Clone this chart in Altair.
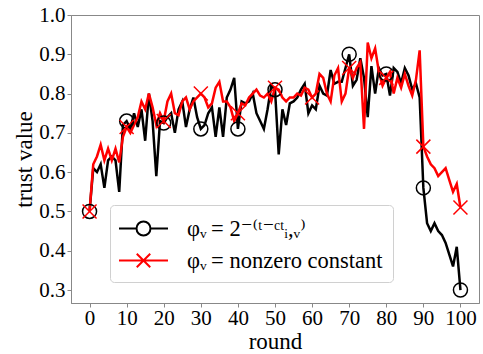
import altair as alt
import pandas as pd

rounds = list(range(101))

black = [0.50, 0.61, 0.60, 0.62, 0.56, 0.63, 0.64, 0.63, 0.55, 0.72,
         0.73, 0.71, 0.75, 0.715, 0.76, 0.68, 0.80, 0.73, 0.59, 0.73,
         0.725, 0.74, 0.75, 0.70, 0.76, 0.78, 0.715, 0.76, 0.79, 0.74,
         0.71, 0.72, 0.75, 0.765, 0.69, 0.765, 0.69, 0.79, 0.81, 0.84,
         0.71, 0.78, 0.775, 0.78, 0.80, 0.75, 0.73, 0.71, 0.76, 0.82,
         0.81, 0.645, 0.76, 0.72, 0.775, 0.78, 0.79, 0.81, 0.825, 0.75,
         0.77, 0.76, 0.82, 0.80, 0.795, 0.86, 0.825, 0.83, 0.83, 0.865,
         0.90, 0.82, 0.835, 0.89, 0.84, 0.74, 0.87, 0.80, 0.865, 0.846,
         0.85, 0.795, 0.865, 0.855, 0.826, 0.865, 0.846, 0.81, 0.826, 0.79,
         0.56, 0.47, 0.45, 0.47, 0.45, 0.44, 0.42, 0.39, 0.36, 0.41,
         0.30]

red = [0.50, 0.62, 0.64, 0.67, 0.63, 0.66, 0.63, 0.66, 0.625, 0.69,
       0.715, 0.70, 0.72, 0.74, 0.78, 0.76, 0.80, 0.765, 0.72, 0.75,
       0.73, 0.78, 0.80, 0.75, 0.745, 0.78, 0.79, 0.76, 0.78, 0.79,
       0.80, 0.79, 0.765, 0.775, 0.815, 0.83, 0.78, 0.78, 0.765, 0.73,
       0.75, 0.775, 0.77, 0.79, 0.80, 0.81, 0.795, 0.79, 0.80, 0.78,
       0.815, 0.81, 0.79, 0.78, 0.79, 0.79, 0.80, 0.795, 0.815, 0.81,
       0.79, 0.80, 0.85, 0.84, 0.80, 0.78, 0.846, 0.865, 0.78, 0.80,
       0.865, 0.84, 0.865, 0.88, 0.71, 0.93, 0.89, 0.915, 0.855, 0.82,
       0.84, 0.855, 0.80, 0.84, 0.815, 0.85, 0.82, 0.795, 0.835, 0.91,
       0.665, 0.64, 0.62, 0.61, 0.59, 0.60, 0.61, 0.58, 0.55, 0.57,
       0.51]

names = ["φᵥ\u2009= 2⁻⁽ᵗ⁻ᶜᵗᵢ,ᵥ⁾", "φᵥ\u2009= nonzero constant"]
colors = ["#000000", "#ff0000"]
black_marker_rounds = [0, 10, 20, 30, 40, 50, 70, 80, 90, 100]
red_marker_rounds = [0, 10, 20, 30, 40, 50, 60, 70, 80, 90, 100]
x_ticks = list(range(0, 101, 10))
y_ticks = [0.3, 0.4, 0.5, 0.6, 0.7, 0.8, 0.9, 1.0]

df = pd.DataFrame({
    "round": rounds * 2,
    "value": black + red,
    "series": [names[0]] * 101 + [names[1]] * 101,
    "marker": [r in black_marker_rounds for r in rounds] + [r in red_marker_rounds for r in rounds],
})

X_PATH = "M-1,-1L1,1M-1,1L1,-1"
LEG_CIRCLE = "M-2,0L-0.57,0M0.57,0L2,0M0.57,0A0.57,0.57 0 1 1 -0.57,0A0.57,0.57 0 1 1 0.57,0"
LEG_X = "M-2,0L2,0M-0.55,-0.55L0.55,0.55M-0.55,0.55L0.55,-0.55"

FONT = "Liberation Serif"
LEG_FONT = "Liberation Serif, DejaVu Serif, serif"

x_enc = alt.X("round:Q",
              scale=alt.Scale(domain=[-5, 105], nice=False, zero=False),
              axis=alt.Axis(values=x_ticks, title="round", format="d"))
y_enc = alt.Y("value:Q",
              scale=alt.Scale(domain=[0.267, 1.0], nice=False, zero=False),
              axis=alt.Axis(values=y_ticks, title="trust value", format=".1f"))
color_scale = alt.Scale(domain=names, range=colors)

base = alt.Chart(df)

line_black = base.transform_filter(alt.datum.series == names[0]).mark_line(
    strokeWidth=2.5, clip=True).encode(
    x=x_enc, y=y_enc, color=alt.Color("series:N", scale=color_scale, legend=None))
line_red = base.transform_filter(alt.datum.series == names[1]).mark_line(
    strokeWidth=2.5, clip=True).encode(
    x=x_enc, y=y_enc, color=alt.Color("series:N", scale=color_scale, legend=None))

points = base.transform_filter(alt.datum.marker).mark_point(
    filled=False, size=196, strokeWidth=1.5, opacity=1, clip=True).encode(
    x=x_enc, y=y_enc,
    color=alt.Color("series:N", scale=color_scale, legend=None),
    shape=alt.Shape("series:N", scale=alt.Scale(domain=names, range=["circle", X_PATH]), legend=None))

leg_props = dict(
    orient="none", legendX=39, legendY=190, title=None,
    labelFont=LEG_FONT, labelFontSize=22.5, labelColor="black", labelLimit=400,
    symbolSize=600, symbolStrokeWidth=2, symbolOffset=10, labelOffset=30,
    padding=10, rowPadding=7, strokeColor="#d0d0d0", fillColor="white",
    cornerRadius=4,
)
legend_layer = base.transform_filter("false").mark_point(
    filled=False, size=600, strokeWidth=2, opacity=1).encode(
    x=x_enc, y=y_enc,
    color=alt.Color("series:N", scale=alt.Scale(domain=names, range=colors), legend=alt.Legend(**leg_props)),
    shape=alt.Shape("series:N", scale=alt.Scale(domain=names, range=[LEG_CIRCLE, LEG_X]), legend=alt.Legend(**leg_props)))

chart = alt.layer(line_black, line_red, points, legend_layer).resolve_scale(
    color="independent", shape="independent"
).properties(
    width=408, height=288,
    autosize=alt.AutoSizeParams(type="none"),
    padding={"left": 71, "top": 15, "right": 4, "bottom": 51},
).configure_view(
    stroke="#888888", strokeWidth=1
).configure_axis(
    grid=False, domainColor="#888888", domainWidth=1, tickColor="#888888",
    tickSize=4, tickWidth=1,
    labelFont=FONT, labelFontSize=21, labelColor="black",
    titleFont=FONT, titleFontSize=23, titleFontWeight="normal", titleColor="black",
    labelPadding=2,
).configure_axisX(titlePadding=2, labelPadding=0).configure_axisY(titlePadding=2).configure_legend(
    labelFont=LEG_FONT, labelFontSize=22.5, labelColor="black", labelLimit=400,
)

chart.save("out.html", embed_options={"renderer": "svg", "actions": False})
